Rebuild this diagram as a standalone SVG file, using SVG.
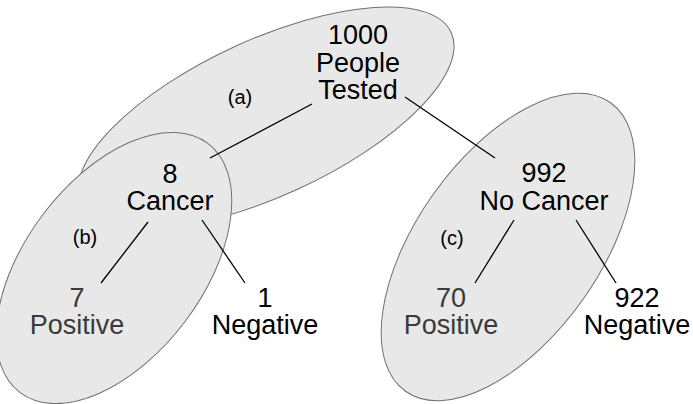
<svg xmlns="http://www.w3.org/2000/svg" width="693" height="404" viewBox="0 0 693 404">
<style>
.set{fill:#e8e8e8;stroke:#707070;stroke-width:1}
.t{font-family:"Liberation Sans",Arial,sans-serif;font-size:27px;text-anchor:middle;fill:#000}
.pos{fill:#3a3a3a}
.lab{font-family:"Liberation Sans",Arial,sans-serif;font-size:20px;text-anchor:middle;fill:#000}
.c line{stroke:#000;stroke-width:1.3}
</style>
<rect width="693" height="404" fill="#fff"/>
<g id="set-a"><ellipse class="set" cx="266" cy="118" rx="204" ry="78" transform="rotate(-24.8 266 118)"/></g>
<g id="set-b"><ellipse class="set" cx="114" cy="268" rx="156" ry="89" transform="rotate(-53 114 268)"/></g>
<g id="set-c"><ellipse class="set" cx="508" cy="247" rx="177" ry="91.5" transform="rotate(-54.6 508 247)"/></g>
<g class="c" id="connectors">
<line x1="312" y1="104" x2="210" y2="158"/>
<line x1="405" y1="97" x2="495" y2="158"/>
<line x1="148" y1="222" x2="101" y2="283"/>
<line x1="202" y1="220" x2="245" y2="283"/>
<line x1="514" y1="220" x2="475" y2="283"/>
<line x1="576" y1="220" x2="616" y2="283"/>
</g>
<g id="tested"><text class="t" x="358" y="44">1000</text><text class="t" x="358" y="71.5">People</text><text class="t" x="358" y="99">Tested</text></g>
<g id="label-a"><text class="lab" x="240" y="104">(a)</text></g>
<g id="cancer"><text class="t" x="170" y="183">8</text><text class="t" x="170" y="210">Cancer</text></g>
<g id="label-b"><text class="lab" x="85" y="244">(b)</text></g>
<g id="pos7"><text class="t pos" x="77" y="307">7</text><text class="t pos" x="77" y="334">Positive</text></g>
<g id="neg1"><text class="t" x="265" y="307">1</text><text class="t" x="265" y="334">Negative</text></g>
<g id="nocancer"><text class="t" x="544" y="182">992</text><text class="t" x="544" y="210">No Cancer</text></g>
<g id="label-c"><text class="lab" x="452" y="245">(c)</text></g>
<g id="pos70"><text class="t pos" x="451" y="307">70</text><text class="t pos" x="451" y="334">Positive</text></g>
<g id="neg922"><text class="t" x="637" y="307">922</text><text class="t" x="637" y="334">Negative</text></g>
</svg>
